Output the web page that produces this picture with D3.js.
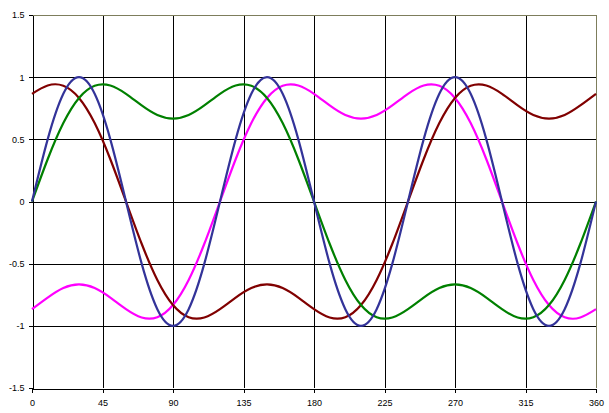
<!DOCTYPE html>
<html>
<head>
<meta charset="utf-8">
<script src="https://cdn.jsdelivr.net/npm/d3@7"></script>
<style>
  body { margin: 0; background: #fff; }
  text { font-family: "Liberation Sans", Arial, sans-serif; font-size: 9px; fill: #000; }
</style>
</head>
<body>
<div id="chart"></div>
<script>
// values, every 10 degrees
var xs = d3.range(0, 361, 10);
var blue = [0, 0.5, 0.866, 1, 0.866, 0.5, 0, -0.5, -0.866, -1, -0.866, -0.5,
            0, 0.5, 0.866, 1, 0.866, 0.5, 0, -0.5, -0.866, -1, -0.866, -0.5,
            0, 0.5, 0.866, 1, 0.866, 0.5, 0, -0.5, -0.866, -1, -0.866, -0.5, 0];
var green = [0, 0.34, 0.631, 0.833, 0.931, 0.933, 0.866, 0.773, 0.696, 0.667, 0.696, 0.773,
             0.866, 0.933, 0.931, 0.833, 0.631, 0.34, 0, -0.34, -0.631, -0.833, -0.931, -0.933,
             -0.866, -0.773, -0.696, -0.667, -0.696, -0.773, -0.866, -0.933, -0.931, -0.833, -0.631, -0.34, 0];
var red = [0.866, 0.933, 0.931, 0.833, 0.631, 0.34, 0, -0.34, -0.631, -0.833, -0.931, -0.933,
           -0.866, -0.773, -0.696, -0.667, -0.696, -0.773, -0.866, -0.933, -0.931, -0.833, -0.631, -0.34,
           0, 0.34, 0.631, 0.833, 0.931, 0.933, 0.866, 0.773, 0.696, 0.667, 0.696, 0.773, 0.866];
var magenta = [-0.866, -0.773, -0.696, -0.667, -0.696, -0.773, -0.866, -0.933, -0.931, -0.833, -0.631, -0.34,
               0, 0.34, 0.631, 0.833, 0.931, 0.933, 0.866, 0.773, 0.696, 0.667, 0.696, 0.773,
               0.866, 0.933, 0.931, 0.833, 0.631, 0.34, 0, -0.34, -0.631, -0.833, -0.931, -0.933, -0.866];
var xTicks = [0, 45, 90, 135, 180, 225, 270, 315, 360];
var yTicks = [-1.5, -1, -0.5, 0, 0.5, 1, 1.5];

var w = 609, h = 413;
var pLeft = 32, pRight = 596, pTop = 15, pBottom = 388;

var svg = d3.select("#chart").append("svg")
    .attr("width", w)
    .attr("height", h);

var x = d3.scaleLinear().domain([0, 360]).range([pLeft, pRight]);
var y = d3.scaleLinear().domain([-1.5, 1.5]).range([pBottom, pTop]);

// grid
var grid = svg.append("g").attr("shape-rendering", "crispEdges");
grid.selectAll(".vg").data(xTicks.slice(1, -1)).enter().append("line")
    .attr("x1", d => Math.round(x(d)) + 0.5).attr("x2", d => Math.round(x(d)) + 0.5)
    .attr("y1", pTop).attr("y2", pBottom)
    .attr("stroke", "#000");
grid.selectAll(".hg").data(yTicks.slice(1, -1)).enter().append("line")
    .attr("y1", d => Math.round(y(d)) + 0.5).attr("y2", d => Math.round(y(d)) + 0.5)
    .attr("x1", pLeft).attr("x2", pRight)
    .attr("stroke", "#000");

// plot area border top / right
grid.append("line").attr("x1", pLeft).attr("x2", pRight + 0.5)
    .attr("y1", pTop + 0.5).attr("y2", pTop + 0.5).attr("stroke", "#7d7d5c");
grid.append("line").attr("x1", pRight + 0.5).attr("x2", pRight + 0.5)
    .attr("y1", pTop).attr("y2", pBottom).attr("stroke", "#7d7d5c");

// axes
var xAxis = d3.axisBottom(x).tickValues(xTicks).tickSize(4).tickSizeOuter(0).tickPadding(7);
var yAxis = d3.axisLeft(y).tickValues(yTicks).tickSize(4).tickSizeOuter(0).tickPadding(4)
    .tickFormat(d => d);

var gx = svg.append("g").attr("transform", "translate(0," + (pBottom + 0.5) + ")")
    .attr("shape-rendering", "crispEdges").call(xAxis);
var gy = svg.append("g").attr("transform", "translate(" + (pLeft + 0.5) + ",0)")
    .attr("shape-rendering", "crispEdges").call(yAxis);
[gx, gy].forEach(function(g) {
  g.selectAll("path, line").attr("stroke", "#000");
  g.selectAll("text").style("font-size", "9px").attr("fill", "#000");
});

// series
var series = [
  {vals: magenta, color: "#ff00ff"},
  {vals: red, color: "#800000"},
  {vals: green, color: "#008000"},
  {vals: blue, color: "#333399"}
];

var line = d3.line()
    .x((d, i) => x(xs[i]))
    .y(d => y(d))
    .curve(d3.curveNatural);

svg.selectAll(".series").data(series).enter().append("path")
    .attr("d", d => line(d.vals))
    .attr("fill", "none")
    .attr("stroke", d => d.color)
    .attr("stroke-width", 2.2);
</script>
</body>
</html>
